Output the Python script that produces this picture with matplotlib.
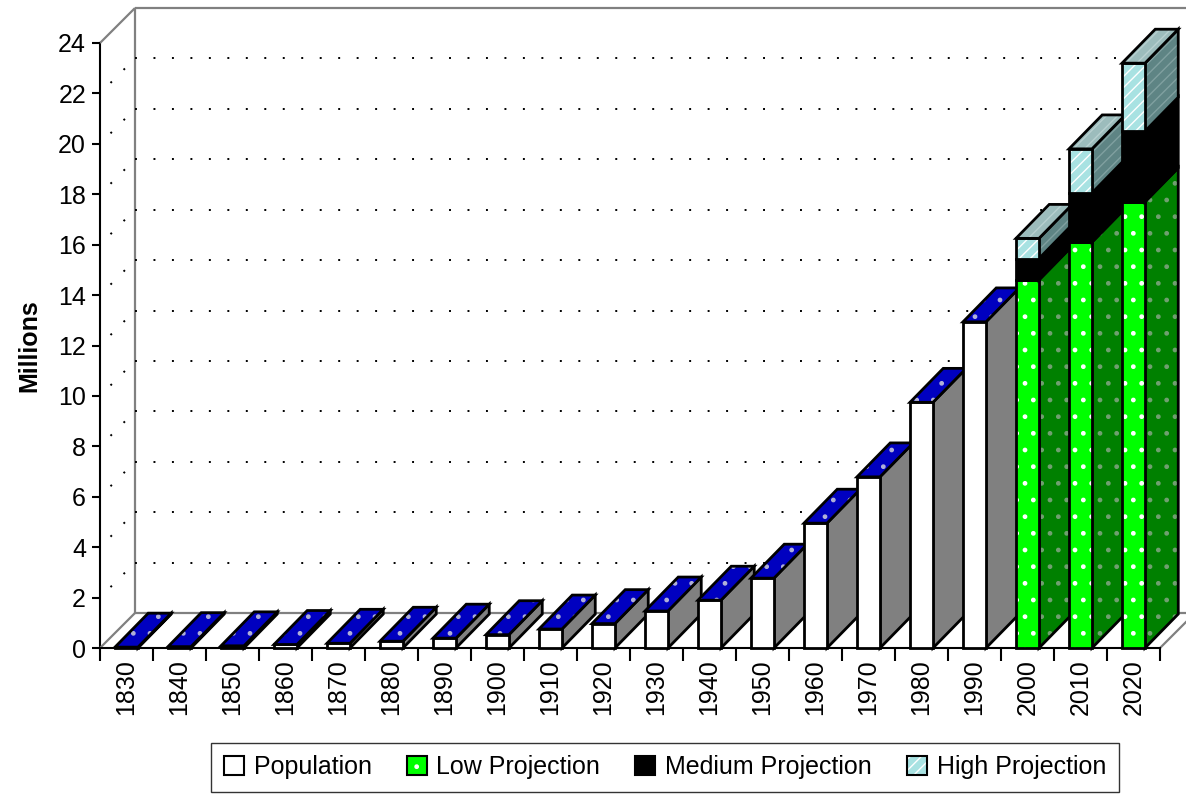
import matplotlib
matplotlib.use("Agg")
import matplotlib.pyplot as plt
from matplotlib.patches import Polygon, Patch
import numpy as np

plt.rcParams['font.family'] = ['Liberation Sans', 'DejaVu Sans']
plt.rcParams['hatch.linewidth'] = 1.0

# ---------------- data ----------------
years = ['1830', '1840', '1850', '1860', '1870', '1880', '1890', '1900', '1910', '1920',
         '1930', '1940', '1950', '1960', '1970', '1980', '1990', '2000', '2010', '2020']
population = [0.035, 0.054, 0.087, 0.140, 0.188, 0.269, 0.391, 0.529, 0.753, 0.968,
              1.468, 1.897, 2.771, 4.952, 6.789, 9.746, 12.938, None, None, None]
proj_years = ['2000', '2010', '2020']
low_proj = [14.6, 16.1, 17.7]
medium_proj = [15.45, 18.05, 20.5]
high_proj = [16.25, 19.8, 23.2]
yticks = list(range(0, 25, 2))

# ---------------- figure / axes ----------------
W, H = 1186, 794
fig = plt.figure(figsize=(W / 100, H / 100), dpi=100)
ax = fig.add_axes([100 / W, 146 / H, 1060 / W, 605 / H])
ax.set_xlim(-0.5, len(years) - 0.5)
ax.set_ylim(0, 24)

px_x = 1060 / len(years)
px_y = 605 / 24.0
DX = 35 / px_x          # depth offset (category units)
DY = 35 / px_y          # depth offset (value units)
BDX, BDY = 0.95 * DX, 0.97 * DY
BAR_W = 23 / px_x

GRAY = '#808080'
x_left, x_right = -0.5, len(years) - 0.5

# walls
wall_kw = dict(color=GRAY, lw=1.6, clip_on=False, zorder=1, solid_capstyle='butt')
ax.plot([x_left + DX, x_left + DX], [DY, 24 + DY], **wall_kw)
ax.plot([x_left, x_left + DX], [24, 24 + DY], **wall_kw)
ax.plot([x_left + DX, x_right + DX + 0.5], [24 + DY, 24 + DY], **wall_kw)
ax.plot([x_left + DX, x_right + DX], [DY, DY], **wall_kw)
ax.plot([x_left, x_left + DX], [0, DY], **wall_kw)
ax.plot([x_right, x_right + DX], [0, DY], **wall_kw)

# dotted gridlines on back wall and left wall
dot_kw = dict(color='black', lw=1.4, dashes=(1, 8.5), clip_on=False, zorder=1)
for v in yticks[1:-1]:
    ax.plot([x_left + DX, x_right + DX + 0.5], [v + DY, v + DY], **dot_kw)
    ax.plot([x_left + 0.3 * DX, x_left + DX], [v + 0.3 * DY, v + DY], **dot_kw)


def face(pts, fc, hatch=None, hc=None, z=3):
    ax.add_patch(Polygon(pts, closed=True, facecolor=fc, edgecolor='none',
                         lw=0, clip_on=False, zorder=z))
    if hatch:
        ax.add_patch(Polygon(pts, closed=True, facecolor='none', edgecolor=hc,
                             lw=0, hatch=hatch, clip_on=False, zorder=z))
    ax.add_patch(Polygon(pts, closed=True, facecolor='none', edgecolor='black',
                         lw=2.0, joinstyle='miter', clip_on=False, zorder=z))


def box(xc, y0, y1, front, side, top=None, z=3):
    x0, x1 = xc - BAR_W / 2, xc + BAR_W / 2
    face([(x1, y0), (x1 + BDX, y0 + BDY), (x1 + BDX, y1 + BDY), (x1, y1)], *side, z=z)
    face([(x0, y0), (x1, y0), (x1, y1), (x0, y1)], *front, z=z)
    if top is not None:
        face([(x0, y1), (x1, y1), (x1 + BDX, y1 + BDY), (x0 + BDX, y1 + BDY)], *top, z=z)


POP_FRONT = ('white',)
POP_SIDE = (GRAY,)
POP_TOP = ('#0000c0', '.', '#b0b0d8')
LOW_FRONT = ('#00ff00', '.', 'white')
LOW_SIDE = ('#008000', '.', '#70a070')
MED = ('black',)
HIGH_FRONT = ('#a8e2e2', '///', 'white')
HIGH_SIDE = ('#5e8484', '///', '#80a0a0')
HIGH_TOP = ('#9cbcbc', '///', '#b8d0d0')

for i, (yr, v) in enumerate(zip(years, population)):
    if v is not None:
        box(i, 0, v, POP_FRONT, POP_SIDE, POP_TOP)
    elif yr in proj_years:
        j = proj_years.index(yr)
        box(i, 0, low_proj[j], LOW_FRONT, LOW_SIDE)
        box(i, low_proj[j], medium_proj[j], MED, MED)
        box(i, medium_proj[j], high_proj[j], HIGH_FRONT, HIGH_SIDE, HIGH_TOP)

# axes styling
for s in ['top', 'right']:
    ax.spines[s].set_visible(False)
ax.spines['left'].set_linewidth(1.5)
ax.spines['bottom'].set_linewidth(1.5)
ax.spines['left'].set_zorder(0.5)
ax.set_yticks(yticks)
ax.tick_params(axis='y', length=6, width=1.5, pad=4, labelsize=18)
ax.set_xticks(np.arange(len(years) + 1) - 0.5)
ax.set_xticklabels([])
ax.tick_params(axis='x', which='major', length=9, width=1.5, direction='out')
ax.set_xticks(np.arange(len(years)), minor=True)
ax.set_xticklabels(years, minor=True, rotation=90, fontsize=18)
ax.tick_params(axis='x', which='minor', length=0, pad=8)
ax.set_ylabel('Millions', fontsize=18, fontweight='bold', labelpad=12)
ax.patch.set_visible(False)

# legend
def handle(fc, hatch=None, hc=None):
    parts = [Patch(facecolor=fc, edgecolor='none', lw=0)]
    if hatch:
        parts.append(Patch(facecolor='none', edgecolor=hc, lw=0, hatch=hatch))
    parts.append(Patch(facecolor='none', edgecolor='black', lw=1.5))
    return tuple(parts)

handles = [handle('white'), handle('#00ff00', '.', 'white'), handle('black'),
           handle('#a8e2e2', '///', 'white')]
labels = ['Population', 'Low Projection', 'Medium Projection', 'High Projection']
leg = fig.legend(handles, labels, loc='center', bbox_to_anchor=(665 / W, 1 - 767 / H),
                 ncol=4, fontsize=18, frameon=True, fancybox=False, handlelength=0.8,
                 handleheight=0.8, handletextpad=0.4, columnspacing=1.4,
                 borderpad=0.5, edgecolor='black')
leg.get_frame().set_linewidth(1.0)

fig.savefig('out.png', dpi=100)
